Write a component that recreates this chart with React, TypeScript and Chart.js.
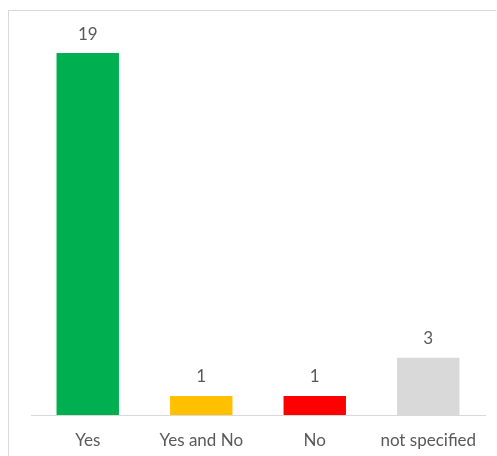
import React, { useEffect, useRef } from "react";
import { Chart, registerables } from "chart.js";

Chart.register(...registerables);

const categories = ["Yes", "Yes and No", "No", "not specified"];
const counts = [19, 1, 1, 3];
const barColors = ["#00B050", "#FFC000", "#FF0000", "#D9D9D9"];

const FONT = "Lato, 'Open Sans', sans-serif";
const TEXT_COLOR = "#595959";

const valueLabels = {
  id: "valueLabels",
  afterDatasetsDraw(chart: any) {
    const ctx = chart.ctx;
    const meta = chart.getDatasetMeta(0);
    ctx.save();
    ctx.font = `17px ${FONT}`;
    ctx.fillStyle = TEXT_COLOR;
    ctx.textAlign = "center";
    ctx.textBaseline = "middle";
    meta.data.forEach((bar: any, i: number) => {
      ctx.fillText(String(counts[i]), bar.x, bar.y - 19);
    });
    ctx.restore();
  },
};

export default function App() {
  const ref = useRef<HTMLCanvasElement | null>(null);
  useEffect(() => {
    if (!ref.current) return;
    const chart = new Chart(ref.current, {
      type: "bar",
      data: {
        labels: categories,
        datasets: [
          {
            data: counts,
            backgroundColor: barColors,
            borderWidth: 0,
            barPercentage: 0.55,
            categoryPercentage: 1,
          },
        ],
      },
      options: {
        animation: false,
        responsive: false,
        maintainAspectRatio: false,
        layout: { padding: { left: 22, right: 11, top: 23, bottom: 0 } },
        plugins: {
          legend: { display: false },
          tooltip: { enabled: false },
        },
        scales: {
          x: {
            grid: { display: false, drawTicks: false },
            border: { display: true, color: "#D9D9D9", width: 1 },
            ticks: {
              color: TEXT_COLOR,
              font: { family: FONT, size: 17 },
              padding: 15,
              maxRotation: 0,
              autoSkip: false,
            },
            afterFit: (scale: any) => {
              scale.height = 41;
            },
          },
          y: {
            display: false,
            min: 0,
            max: 20,
          },
        },
      },
      plugins: [valueLabels],
    });
    return () => chart.destroy();
  }, []);

  return (
    <div
      style={{
        position: "absolute",
        left: 8,
        top: 10,
        width: 488,
        height: 446,
        boxSizing: "border-box",
        borderLeft: "1px solid #D9D9D9",
        borderTop: "1px solid #D9D9D9",
        background: "#fff",
      }}
    >
      <canvas ref={ref} width={487} height={445} style={{ display: "block" }} />
    </div>
  );
}
